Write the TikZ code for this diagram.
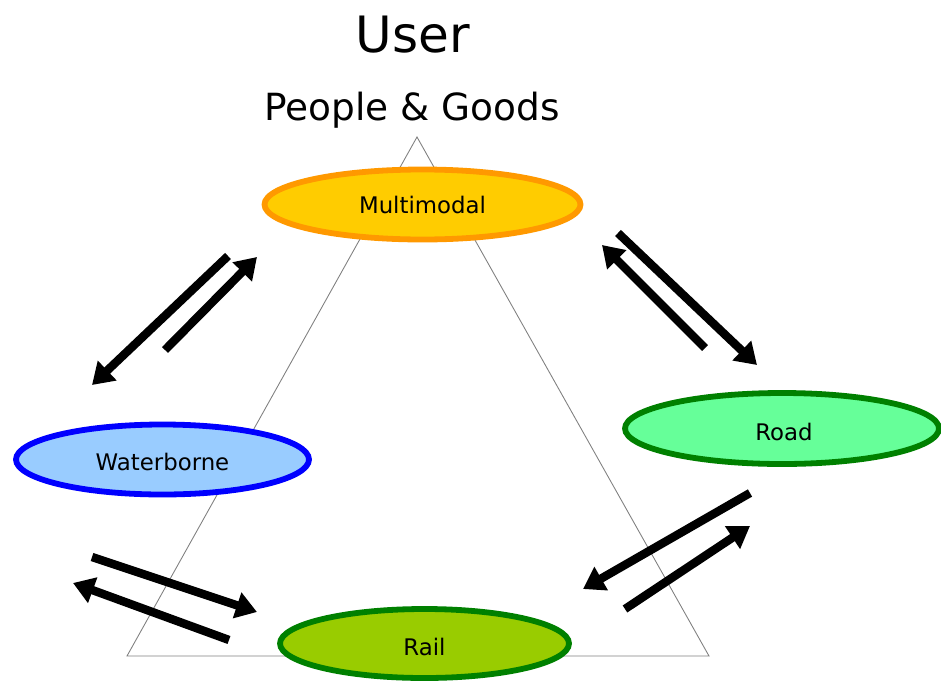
\documentclass[tikz,border=0pt]{standalone}
\usepackage{fontspec}
\setmainfont{DejaVu Sans}
\usepackage{tikz}
\usetikzlibrary{arrows.meta}
\definecolor{mmfill}{HTML}{FFCC00}
\definecolor{mmline}{HTML}{FF9900}
\definecolor{wbfill}{HTML}{99CCFF}
\definecolor{wbline}{HTML}{0000FF}
\definecolor{rdfill}{HTML}{66FF99}
\definecolor{rlfill}{HTML}{99CC00}
\definecolor{dkgreen}{HTML}{008000}
\tikzset{
  mode/.style={line width=3.3pt},
  flow/.style={line width=4.8pt, -{Triangle[length=0.42cm, width=0.52cm]}},
  lbl/.style={font=\fontsize{13}{15}\selectfont}
}
\begin{document}
\begin{tikzpicture}[scale=0.2]
\tikzstyle{every node}+=[inner sep=0pt]
\useasboundingbox (0,0) rectangle (94.1,-68.2);
% titles
\draw (41.3,-5.2) node [anchor=base, font=\fontsize{28.5}{34}\selectfont] (user) {User};
\draw (41.2,-12.0) node [anchor=base, font=\fontsize{21.3}{25}\selectfont] (goods) {People \& Goods};
% triangle
\coordinate (apex) at (41.7,-13.7);
\coordinate (bl) at (12.7,-65.6);
\coordinate (br) at (70.9,-65.6);
\draw [gray, line width=0.5pt] (apex) -- (bl) -- (br) -- cycle;
% modes
\draw [mode, draw=mmline, fill=mmfill] (42.25,-20.45) ellipse (15.8 and 3.5);
\draw (42.25,-21.3) node [anchor=base, lbl] (multi) {Multimodal};
\draw [mode, draw=wbline, fill=wbfill] (16.25,-45.95) ellipse (14.65 and 3.5);
\draw (16.25,-47.0) node [anchor=base, lbl] (water) {Waterborne};
\draw [mode, draw=dkgreen, fill=rdfill] (78.2,-42.85) ellipse (15.7 and 3.55);
\draw (78.4,-44.0) node [anchor=base, lbl] (road) {Road};
\draw [mode, draw=dkgreen, fill=rlfill] (42.45,-64.35) ellipse (14.45 and 3.45);
\draw (42.45,-65.5) node [anchor=base, lbl] (rail) {Rail};
% flows
\coordinate (mw1) at (22.8,-25.6);
\coordinate (mw2) at (9.2,-38.5);
\coordinate (wm1) at (16.5,-35.0);
\coordinate (wm2) at (25.7,-25.7);
\coordinate (mr1) at (61.8,-23.3);
\coordinate (mr2) at (75.7,-36.5);
\coordinate (rm1) at (70.5,-34.8);
\coordinate (rm2) at (60.2,-24.5);
\coordinate (dl1) at (75.0,-49.3);
\coordinate (dl2) at (58.3,-58.9);
\coordinate (ld1) at (62.5,-60.9);
\coordinate (ld2) at (75.0,-52.6);
\coordinate (wl1) at (9.2,-55.7);
\coordinate (wl2) at (25.7,-61.2);
\coordinate (lw1) at (22.9,-64.0);
\coordinate (lw2) at (7.3,-58.3);
\draw [flow] (mw1) -- (mw2);
\draw [flow] (wm1) -- (wm2);
\draw [flow] (mr1) -- (mr2);
\draw [flow] (rm1) -- (rm2);
\draw [flow] (dl1) -- (dl2);
\draw [flow] (ld1) -- (ld2);
\draw [flow] (wl1) -- (wl2);
\draw [flow] (lw1) -- (lw2);
\end{tikzpicture}
\end{document}
